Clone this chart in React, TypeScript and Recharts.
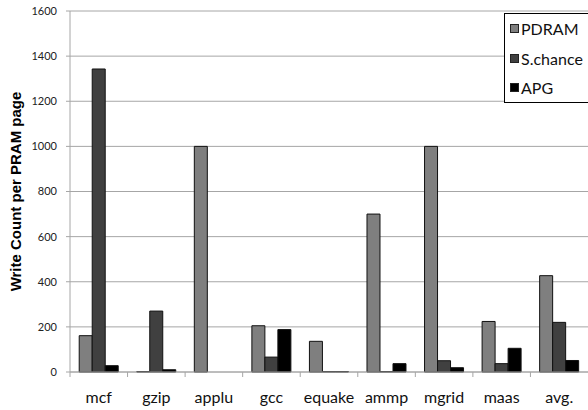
import type { JSX } from 'react';
import { Bar, BarChart, CartesianGrid, XAxis, YAxis } from 'recharts';

const categories = ['mcf', 'gzip', 'applu', 'gcc', 'equake', 'ammp', 'mgrid', 'maas', 'avg.'];
const pdram = [161, 2, 1000, 205, 136, 700, 1000, 224, 427];
const sChance = [1343, 270, 0, 66, 2, 2, 50, 37, 220];
const apg = [28, 10, 0, 188, 2, 37, 19, 105, 51];
const yTicks = [0, 200, 400, 600, 800, 1000, 1200, 1400, 1600];

const series = [
  { key: 'PDRAM', color: '#7f7f7f' },
  { key: 'S.chance', color: '#404040' },
  { key: 'APG', color: '#000000' },
];

const data = categories.map((name, i) => ({
  name,
  PDRAM: pdram[i],
  'S.chance': sChance[i],
  APG: apg[i],
}));

const AXIS_GRAY = '#a6a6a6';
const LABEL_FONT = 'Lato, "Open Sans", sans-serif';

const CategoryTick = (props: any): JSX.Element => {
  const { x, y, payload } = props;
  const half = payload?.offset ?? 28.8;
  return (
    <g>
      <line x1={x - half} x2={x - half} y1={y} y2={y + 5} stroke={AXIS_GRAY} />
      <text x={x} y={y + 31} textAnchor="middle" fontFamily={LABEL_FONT} fontSize={16} fill="#111">
        {payload.value}
      </text>
    </g>
  );
};

// legend drawn as an overlay so the chart keeps its full plot height
const LegendBox = (): JSX.Element => (
  <div
    style={{
      position: 'absolute',
      left: 504,
      top: 13,
      width: 88,
      height: 90,
      border: '1px solid #000',
      background: '#fff',
      boxSizing: 'border-box',
      paddingTop: 0,
      fontFamily: LABEL_FONT,
      fontSize: 16,
      color: '#111',
    }}
  >
    {series.map((s) => (
      <div key={s.key} style={{ display: 'flex', alignItems: 'center', height: 29.5, paddingLeft: 5 }}>
        <span
          style={{
            display: 'inline-block',
            width: 7,
            height: 7,
            background: s.color,
            border: '1px solid #222',
            marginRight: 2,
          }}
        />
        <span>{s.key}</span>
      </div>
    ))}
  </div>
);

export default function App(): JSX.Element {
  return (
    <div style={{ position: 'absolute', left: 0, top: 0, width: 588, height: 410, background: '#fff', overflow: 'hidden' }}>
      <BarChart
        width={588}
        height={410}
        data={data}
        margin={{ top: 11, right: 0, bottom: 0, left: 10 }}
        barCategoryGap="16%"
        barGap={0}
      >
        <CartesianGrid vertical={false} stroke={AXIS_GRAY} />
        <XAxis
          dataKey="name"
          height={38}
          axisLine={{ stroke: AXIS_GRAY }}
          tickLine={false}
          tickSize={0}
          tickMargin={0}
          interval={0}
          tick={<CategoryTick />}
        />
        <YAxis
          width={60}
          domain={[0, 1600]}
          ticks={yTicks}
          interval={0}
          axisLine={{ stroke: AXIS_GRAY }}
          tickLine={{ stroke: AXIS_GRAY }}
          tickSize={4}
          tickMargin={9}
          tick={{ fontFamily: LABEL_FONT, fontSize: 11, fill: '#222' }}
          label={{
            value: 'Write Count per PRAM page',
            angle: -90,
            position: 'insideLeft',
            offset: 6,
            style: {
              textAnchor: 'middle',
              fontFamily: '"Liberation Sans", Arial, sans-serif',
              fontWeight: 'bold',
              fontSize: 15,
              fill: '#000',
            },
          }}
        />
        {series.map((s) => (
          <Bar
            key={s.key}
            dataKey={s.key}
            fill={s.color}
            stroke="#111"
            strokeWidth={1}
            isAnimationActive={false}
          />
        ))}
      </BarChart>
      <LegendBox />
    </div>
  );
}
